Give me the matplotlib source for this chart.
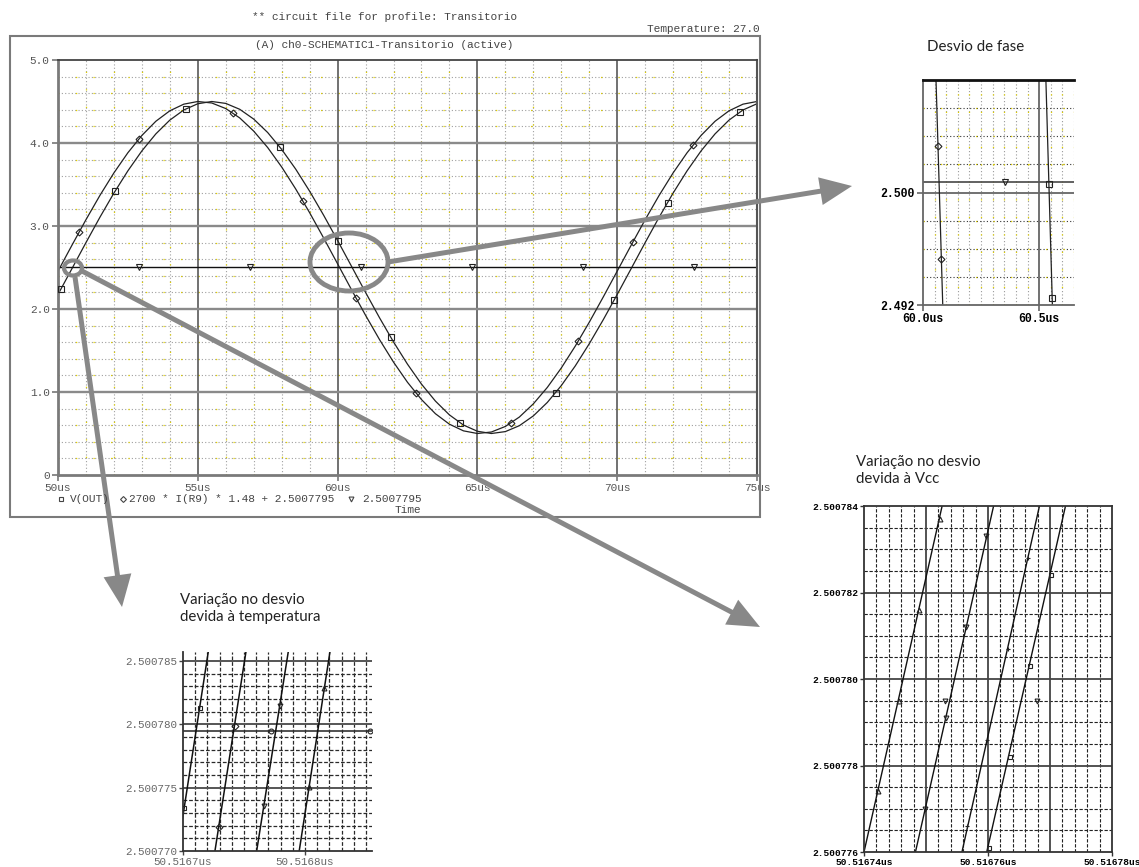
import numpy as np
import matplotlib
matplotlib.use('Agg')
import matplotlib.pyplot as plt
from matplotlib.patches import Ellipse, FancyArrow, Rectangle

plt.rcParams['font.family'] = ['Liberation Mono', 'DejaVu Sans Mono']

# ---- main transient: V(OUT), 2700*I(R9)*1.48+offset, reference level ----
t_us = np.arange(50.0, 75.01, 0.5)
v_out = [2.175, 2.487, 2.800, 3.106, 3.397, 3.665, 3.905, 4.110, 4.276, 4.398,
         4.473, 4.500, 4.477, 4.406, 4.288, 4.126, 3.923, 3.686, 3.419, 3.130,
         2.825, 2.513, 2.200, 1.894, 1.603, 1.335, 1.095, 0.890, 0.724, 0.602,
         0.527, 0.500, 0.523, 0.594, 0.712, 0.874, 1.077, 1.314, 1.581, 1.870,
         2.175, 2.487, 2.800, 3.106, 3.397, 3.665, 3.905, 4.110, 4.276, 4.398,
         4.473]
v_r9 = [2.456, 2.769, 3.076, 3.369, 3.640, 3.883, 4.091, 4.262, 4.388, 4.468,
        4.500, 4.482, 4.415, 4.302, 4.143, 3.945, 3.711, 3.447, 3.160, 2.856,
        2.544, 2.231, 1.924, 1.631, 1.360, 1.117, 0.909, 0.738, 0.612, 0.532,
        0.500, 0.518, 0.585, 0.698, 0.857, 1.055, 1.289, 1.553, 1.840, 2.144,
        2.456, 2.769, 3.076, 3.369, 3.640, 3.883, 4.091, 4.262, 4.388, 4.468,
        4.500]
v_ref = 2.5007795

sq_t = [50.1, 52.04, 54.58, 57.94, 60.0, 61.9, 64.38, 67.8, 69.9, 71.8, 74.4]
sq_v = [2.237, 3.419, 4.413, 3.949, 2.825, 1.660, 0.627, 0.992, 2.113, 3.283, 4.378]
dia_t = [50.75, 52.9, 56.26, 58.75, 60.66, 62.8, 66.2, 68.6, 70.57, 72.7]
dia_v = [2.924, 4.053, 4.362, 3.306, 2.131, 0.987, 0.625, 1.609, 2.813, 3.971]
tri_t = [52.9, 56.87, 60.84, 64.8, 68.77, 72.74]

# ---- phase detail near 60us ----
fase_r9_t = [60.056, 60.085]
fase_out_t = [60.529, 60.557]
fase_v = [2.508, 2.492]
fase_dia_t = [60.065, 60.079]
fase_dia_v = [2.5033, 2.4953]
fase_sq_t = [60.542, 60.556]
fase_sq_v = [2.5006, 2.4925]
fase_tri_t = [60.353]

# ---- temperature sweep detail ----
temp_t = [[50.5166955, 50.5167207], [50.5167262, 50.5167516],
          [50.5167604, 50.5167863], [50.5167953, 50.5168205]]
temp_v = [2.500770, 2.5007857]
temp_mk_t = [[50.5167012, 50.5167136], [50.5167292, 50.5167424],
             [50.5167663, 50.5167792], [50.5168034, 50.5168160]]
temp_mk_v = [[2.50077336, 2.50078128], [2.50077187, 2.50077984],
             [2.50077357, 2.50078142], [2.50077502, 2.50078289]]
temp_ref_t = [50.5167721, 50.5168533]

# ---- Vcc sweep detail ----
vcc_t = [[50.5167400, 50.5167526], [50.5167483, 50.5167609],
         [50.5167558, 50.5167683], [50.5167598, 50.5167725]]
vcc_v = [2.500776, 2.500784]
vcc_mk_t = [[50.5167423, 50.5167456, 50.5167489, 50.5167522],
            [50.5167499, 50.5167532, 50.5167565, 50.5167597],
            [50.5167566, 50.5167599, 50.5167632, 50.5167665],
            [50.5167601, 50.5167635, 50.5167667, 50.5167701]]
vcc_mk_v = [[2.5007774, 2.5007795, 2.5007816, 2.5007837],
            [2.5007770, 2.5007791, 2.5007812, 2.5007833],
            [2.5007766, 2.5007786, 2.5007807, 2.5007828],
            [2.5007761, 2.5007782, 2.5007803, 2.5007824]]
vcc_ref_t = [50.516753, 50.5167679]

W, H = 1139, 867
fig = plt.figure(figsize=(W / 100, H / 100), dpi=100)


def rect(x0, y0, x1, y1):
    return [x0 / W, 1 - y1 / H, (x1 - x0) / W, (y1 - y0) / H]


def dotted(ax, pos, vertical, dark='#a0a0a0'):
    f = ax.axvline if vertical else ax.axhline
    f(pos, color=dark, lw=0.8, dashes=(1, 2), zorder=0.5)
    f(pos, color='#e2d200', lw=0.9, dashes=(1, 13), zorder=0.6)


def dashed(ax, pos, vertical, c='#333333', lw=0.8):
    f = ax.axvline if vertical else ax.axhline
    f(pos, color=c, lw=lw, dashes=(3, 1.5), zorder=0.5)


def solid(ax, pos, vertical, c='#666666', lw=1.3):
    f = ax.axvline if vertical else ax.axhline
    f(pos, color=c, lw=lw, zorder=0.7)


mk = dict(ls='none', mfc='none', mec='#222222', mew=0.8, ms=4, zorder=3)
trace = dict(color='#222222', lw=0.9, zorder=2)

# main plot
ax = fig.add_axes(rect(58, 60, 757, 475))
ax.set_xlim(50, 75)
ax.set_ylim(0, 5)
for x in range(51, 75):
    if x % 5:
        dotted(ax, x, True)
for y in np.arange(0.2, 5.0, 0.2):
    if abs(y - round(y)) > 0.01:
        dotted(ax, y, False)
for x in [55, 60, 65, 70]:
    solid(ax, x, True, '#4a4a4a', 1.1)
for y in [1, 2, 3, 4]:
    solid(ax, y, False, '#8a8a8a', 1.7)
ax.plot(t_us, v_out, **trace)
ax.plot(t_us, v_r9, **trace)
ax.plot([50, 75], [v_ref, v_ref], color='#111111', lw=1.0, zorder=2)
ax.plot(sq_t, sq_v, marker='s', **mk)
ax.plot(dia_t, dia_v, marker='D', **{**mk, 'ms': 3.5})
ax.plot(tri_t, [v_ref] * len(tri_t), marker='v', **mk)
ax.set_xticks([50, 55, 60, 65, 70, 75])
ax.set_xticklabels(['50us', '55us', '60us', '65us', '70us', '75us'])
ax.set_yticks([0, 1, 2, 3, 4, 5])
ax.set_yticklabels(['0', '1.0', '2.0', '3.0', '4.0', '5.0'])
ax.tick_params(length=4, width=1.2, color='#777777', labelsize=8,
               labelcolor='#555555', pad=2)
for side, c, lw in [('left', '#7a7a7a', 2.0), ('bottom', '#7a7a7a', 2.0),
                    ('top', '#444444', 1.3), ('right', '#555555', 1.5)]:
    ax.spines[side].set_color(c)
    ax.spines[side].set_linewidth(lw)

# phase detail
ax_f = fig.add_axes(rect(923, 80, 1074, 305))
ax_f.set_xlim(60.0, 60.65)
ax_f.set_ylim(2.492, 2.508)
for x in np.arange(60.05, 60.66, 0.05):
    if abs(x - 60.5) > 0.01:
        dotted(ax_f, x, True, '#999999')
for y in [2.494, 2.496, 2.498, 2.502, 2.504, 2.506]:
    dotted(ax_f, y, False, '#333333')
solid(ax_f, 60.5, True, '#666666', 1.3)
solid(ax_f, 2.500, False, '#666666', 1.3)
ax_f.axhline(v_ref, color='#555555', lw=1.3, zorder=1)
ax_f.plot(fase_r9_t, fase_v, **trace)
ax_f.plot(fase_out_t, fase_v, **trace)
ax_f.plot(fase_dia_t, fase_dia_v, marker='D', **{**mk, 'ms': 3.5})
ax_f.plot(fase_sq_t, fase_sq_v, marker='s', **mk)
ax_f.plot(fase_tri_t, [v_ref], marker='v', **mk)
ax_f.set_xticks([60.0, 60.5])
ax_f.set_xticklabels(['60.0us', '60.5us'], fontweight='bold')
ax_f.set_yticks([2.492, 2.500])
ax_f.set_yticklabels(['2.492', '2.500'], fontweight='bold')
ax_f.tick_params(length=4, width=1.2, color='#666666', labelsize=8.3, pad=2)
ax_f.spines['right'].set_visible(False)
ax_f.spines['top'].set_color('#111111')
ax_f.spines['top'].set_linewidth(2)
for side in ['left', 'bottom']:
    ax_f.spines[side].set_color('#666666')
    ax_f.spines[side].set_linewidth(1.3)

# temperature sweep detail
ax_t = fig.add_axes(rect(183, 652, 372, 851))
ax_t.set_xlim(50.5167, 50.516855)
ax_t.set_ylim(2.500770, 2.5007857)
for k in range(1, 16):
    dashed(ax_t, 50.5167 + k * 1e-5, True, '#2a2a2a', 0.9)
for k in range(1, 16):
    if k % 5:
        dashed(ax_t, 2.500770 + k * 1e-6, False, '#2a2a2a', 0.9)
    else:
        solid(ax_t, 2.500770 + k * 1e-6, False, '#555555', 1.4)
ax_t.axhline(v_ref, color='#333333', lw=1.2, zorder=1)
markers_t = ['s', 'D', 'v', '^']
for ts, mts, mvs, m in zip(temp_t, temp_mk_t, temp_mk_v, markers_t):
    ax_t.plot(ts, temp_v, color='#111111', lw=1.1, zorder=2)
    ax_t.plot(mts, mvs, marker=m, **{**mk, 'ms': 3.5})
ax_t.plot(temp_ref_t, [v_ref] * 2, marker='o', **{**mk, 'ms': 3.5})
ax_t.set_xticks([50.5167, 50.5168])
ax_t.set_xticklabels(['50.5167us', '50.5168us'])
ax_t.set_yticks([2.500770, 2.500775, 2.500780, 2.500785])
ax_t.set_yticklabels(['2.500770', '2.500775', '2.500780', '2.500785'])
ax_t.tick_params(length=3, width=1.0, color='#444444', labelsize=7.8,
                 labelcolor='#666666', pad=1)
for side in ['top', 'right']:
    ax_t.spines[side].set_visible(False)
for side in ['left', 'bottom']:
    ax_t.spines[side].set_color('#333333')
    ax_t.spines[side].set_linewidth(1.3)

# Vcc sweep detail
ax_v = fig.add_axes(rect(864, 506, 1112, 852))
ax_v.set_xlim(50.51674, 50.51678)
ax_v.set_ylim(2.500776, 2.500784)
for k in range(1, 20):
    if k % 5:
        dashed(ax_v, 50.51674 + k * 2e-6, True, '#222222', 0.8)
    else:
        solid(ax_v, 50.51674 + k * 2e-6, True, '#444444', 1.3)
for k in range(1, 16):
    if k % 4:
        dashed(ax_v, 2.500776 + k * 0.5e-6, False, '#222222', 0.8)
    else:
        solid(ax_v, 2.500776 + k * 0.5e-6, False, '#444444', 1.3)
markers_v = ['^', 'v', '+', 's']
for ts, mts, mvs, m in zip(vcc_t, vcc_mk_t, vcc_mk_v, markers_v):
    ax_v.plot(ts, vcc_v, color='#111111', lw=1.0, zorder=2)
    ax_v.plot(mts, mvs, marker=m, **{**mk, 'ms': 3.5})
ax_v.plot(vcc_ref_t, [v_ref] * 2, marker='v', **{**mk, 'ms': 3.5})
ax_v.set_xticks([50.51674, 50.51676, 50.51678])
ax_v.set_xticklabels(['50.51674us', '50.51676us', '50.51678us'], fontweight='bold')
ax_v.set_yticks([2.500776, 2.500778, 2.500780, 2.500782, 2.500784])
ax_v.set_yticklabels(['2.500776', '2.500778', '2.500780', '2.500782', '2.500784'],
                     fontweight='bold')
ax_v.tick_params(length=3, width=1.0, color='#333333', labelsize=6.8, pad=1)
for side in ax_v.spines:
    ax_v.spines[side].set_color('#333333')
    ax_v.spines[side].set_linewidth(1.3)

# overlay in pixel units for frame, captions, circles and arrows
ov = fig.add_axes([0, 0, 1, 1], zorder=10)
ov.set_xlim(0, W)
ov.set_ylim(H, 0)
ov.axis('off')
ov.patch.set_alpha(0)

ov.add_patch(Rectangle((10, 36), 750, 481, fill=False, ec='#7a7a7a', lw=1.5))
ov.text(384, 17, '** circuit file for profile: Transitorio', ha='center',
        va='center', fontsize=8, color='#444444')
ov.text(760, 29, 'Temperature: 27.0', ha='right', va='center', fontsize=8,
        color='#444444')
ov.text(384, 45, '(A) ch0-SCHEMATIC1-Transitorio (active)', ha='center',
        va='center', fontsize=8, color='#444444')

ov.plot([61], [499], marker='s', ms=3.5, mfc='none', mec='#444444', mew=0.8)
ov.text(70, 499, 'V(OUT)', va='center', fontsize=8, color='#444444')
ov.plot([123], [499], marker='D', ms=3, mfc='none', mec='#444444', mew=0.8)
ov.text(129, 499, '2700 * I(R9) * 1.48 + 2.5007795', va='center', fontsize=8,
        color='#444444')
ov.plot([351], [499], marker='v', ms=3.5, mfc='none', mec='#444444', mew=0.8)
ov.text(362, 499, '2.5007795', va='center', fontsize=8, color='#444444')
ov.text(408, 510, 'Time', ha='center', va='center', fontsize=8, color='#444444')

sans = ['Lato', 'DejaVu Sans']
cap = dict(va='center', fontsize=10.8, color='#222222', family=sans)
ov.text(927, 47, 'Desvio de fase', **cap)
ov.text(180, 600, 'Variação no desvio', **cap)
ov.text(180, 617, 'devida à temperatura', **cap)
ov.text(856, 462, 'Variação no desvio', **cap)
ov.text(856, 479, 'devida à Vcc', **cap)

grey = '#888888'
ov.add_patch(Ellipse((349, 262), 78, 58, fill=False, ec=grey, lw=3.5))
ov.add_patch(Ellipse((73, 268), 18, 15, fill=False, ec=grey, lw=3))
for (x0, y0), (x1, y1) in [((388, 262), (852, 186)),
                           ((75, 277), (122, 607)),
                           ((82, 271), (760, 627))]:
    ov.add_patch(FancyArrow(x0, y0, x1 - x0, y1 - y0, width=5, head_width=28,
                            head_length=32, length_includes_head=True,
                            color=grey, lw=0))

fig.savefig('out.png', dpi=100)
